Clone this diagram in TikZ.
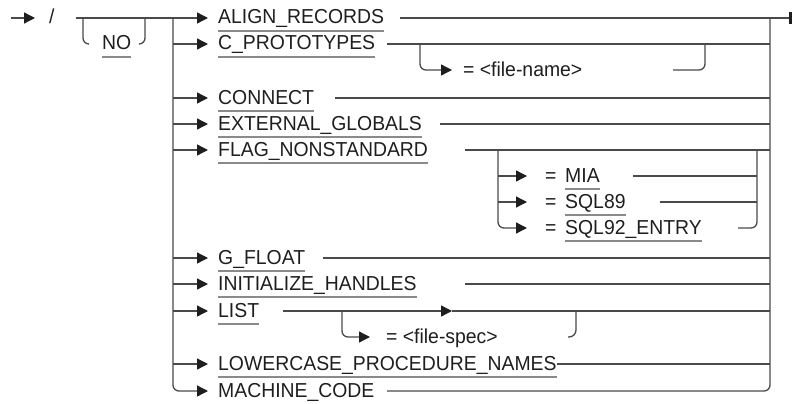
\documentclass[tikz,border=0pt]{standalone}
\usepackage{fontspec}
\setmainfont{Liberation Sans}[FakeStretch=0.96]
\usetikzlibrary{arrows.meta}
\definecolor{lineg}{HTML}{4A4A4A}
\definecolor{arrc}{HTML}{1E1E1E}
\definecolor{textc}{HTML}{1E1E1E}
\definecolor{ulc}{HTML}{8A8A8A}
\newcommand\kwf{\fontsize{20.2}{24}\selectfont}
\newcommand\ulk[1]{\draw[ul] ([yshift=-7pt]#1.base west) -- ([yshift=-7pt]#1.base east);}
\begin{document}
\begin{tikzpicture}[x=1pt,y=-1pt,
  ln/.style={draw=lineg,line width=1.3pt},
  arr/.style={ln,-{Triangle[length=11pt,width=11pt,color=arrc]}},
  kw/.style={anchor=base west,inner sep=0pt,font=\kwf,text=textc},
  ul/.style={draw=ulc,line width=1.4pt},
  rc/.style={rounded corners=6pt}]
\useasboundingbox (0,0) rectangle (792,404);
% ---------------- nodes
\node[kw] (slash) at (49,24) {/};
\node[kw] (no) at (102,50) {NO};
\node[kw] (k1) at (218,24) {ALIGN\_RECORDS};
\node[kw] (k2) at (218,50) {C\_PROTOTYPES};
\node[kw] (fn) at (463,76) {= <file-name>};
\node[kw] (k3) at (218,104) {CONNECT};
\node[kw] (k4) at (218,130) {EXTERNAL\_GLOBALS};
\node[kw] (k5) at (218,156) {FLAG\_NONSTANDARD};
\node[kw] (e1) at (545,182) {=};
\node[kw] (s1) at (565,182) {MIA};
\node[kw] (e2) at (545,208) {=};
\node[kw] (s2) at (565,208) {SQL89};
\node[kw] (e3) at (545,234) {=};
\node[kw] (s3) at (565,234) {SQL92\_ENTRY};
\node[kw] (k6) at (218,264) {G\_FLOAT};
\node[kw] (k7) at (218,290) {INITIALIZE\_HANDLES};
\node[kw] (k8) at (218,317) {LIST};
\node[kw] (fs) at (386,343) {= <file-spec>};
\node[kw] (k9) at (218,370) {LOWERCASE\_PROCEDURE\_NAMES};
\node[kw] (k10) at (218,397) {MACHINE\_CODE};
% underlines
\ulk{no}\ulk{k1}\ulk{k2}\ulk{k3}\ulk{k4}\ulk{k5}\ulk{s1}\ulk{s2}\ulk{s3}
\ulk{k6}\ulk{k7}\ulk{k8}\ulk{k9}
% ---------------- coordinates
\coordinate (in0) at (11,18);
\coordinate (in1) at (35,18);
\coordinate (m0) at (76,18);
\coordinate (out) at (792,18);
\coordinate (j1) at (173,18);
\coordinate (j2) at (173,44);
\coordinate (j3) at (173,98);
\coordinate (j4) at (173,124);
\coordinate (j5) at (173,150);
\coordinate (j6) at (173,258);
\coordinate (j7) at (173,284);
\coordinate (j8) at (173,311);
\coordinate (j9) at (173,364);
\coordinate (j10) at (173,391);
\coordinate (r1) at (770,18);
\coordinate (r2) at (770,44);
\coordinate (r3) at (770,98);
\coordinate (r4) at (770,124);
\coordinate (r5) at (770,150);
\coordinate (r6) at (770,258);
\coordinate (r7) at (770,284);
\coordinate (r8) at (770,311);
\coordinate (r9) at (770,364);
\coordinate (r10) at (770,391);
\coordinate (t1) at (400,18);
\coordinate (t2) at (387,44);
\coordinate (t3) at (335,98);
\coordinate (t4) at (440,124);
\coordinate (t5) at (465,150);
\coordinate (t6) at (323,258);
\coordinate (t7) at (465,284);
\coordinate (t8) at (283,311);
\coordinate (t9) at (557,364);
\coordinate (t10) at (387,391);
% ---------------- entry and main line
\draw[arr] (in0) -- (in1);
\draw[arr,shorten >=10pt] (m0) -- (m0 -| k1.west);
% NO bypass
\coordinate (na) at (83,18);
\coordinate (nb) at (83,44);
\coordinate (nc) at (89,44);
\coordinate (nd) at (139,44);
\coordinate (ne) at (145,44);
\coordinate (nf) at (145,18);
\draw[ln,rc] (na) -- (nb) -- (nc);
\draw[ln,rc] (nd) -- (ne) -- (nf);
% stem and branches
\draw[arr,rc,shorten >=10pt] (j1) -- (j10) -- (j10 -| k10.west);
\foreach \i in {2,...,9}{\draw[arr,shorten >=10pt] (j\i) -- (j\i -| k\i.west);}
% right rail and exit
\draw[ln,rc] (t10) -- (r10) -- (r1);
\draw[ln,-{Rectangle[length=3pt,width=12pt,color=arrc]}] (t1) -- (out);
\foreach \i in {2,3,4,5,6,7,9}{\draw[ln] (t\i) -- (r\i);}
% C_PROTOTYPES option
\coordinate (ca) at (420,44);
\coordinate (cb) at (420,70);
\coordinate (cc) at (452,70);
\coordinate (cd) at (673,70);
\coordinate (ce) at (705,70);
\coordinate (cf) at (705,44);
\draw[arr,rc] (ca) -- (cb) -- (cc);
\draw[ln,rc] (cd) -- (ce) -- (cf);
% FLAG_NONSTANDARD options
\coordinate (f0) at (498,150);
\coordinate (f1) at (498,176);
\coordinate (f2) at (498,202);
\coordinate (f3) at (498,228);
\coordinate (a1) at (527,176);
\coordinate (a2) at (527,202);
\coordinate (a3) at (527,228);
\coordinate (g1) at (633,176);
\coordinate (g2) at (660,202);
\coordinate (g3) at (738,228);
\coordinate (h0) at (757,150);
\coordinate (h1) at (757,176);
\coordinate (h2) at (757,202);
\coordinate (h3) at (757,228);
\draw[arr,rc] (f0) -- (f3) -- (a3);
\draw[arr] (f1) -- (a1);
\draw[arr] (f2) -- (a2);
\draw[ln] (g1) -- (h1);
\draw[ln] (g2) -- (h2);
\draw[ln,rc] (g3) -- (h3) -- (h0);
% LIST option
\coordinate (la) at (452,311);
\coordinate (lb) at (342,311);
\coordinate (lc) at (342,337);
\coordinate (ld) at (370,337);
\coordinate (le) at (568,337);
\coordinate (lf) at (576,337);
\coordinate (lg) at (576,311);
\draw[arr] (t8) -- (la);
\draw[ln] (la) -- (r8);
\draw[arr,rc] (lb) -- (lc) -- (ld);
\draw[ln,rounded corners=7pt] (le) -- (lf) -- (lg);
\end{tikzpicture}
\end{document}
